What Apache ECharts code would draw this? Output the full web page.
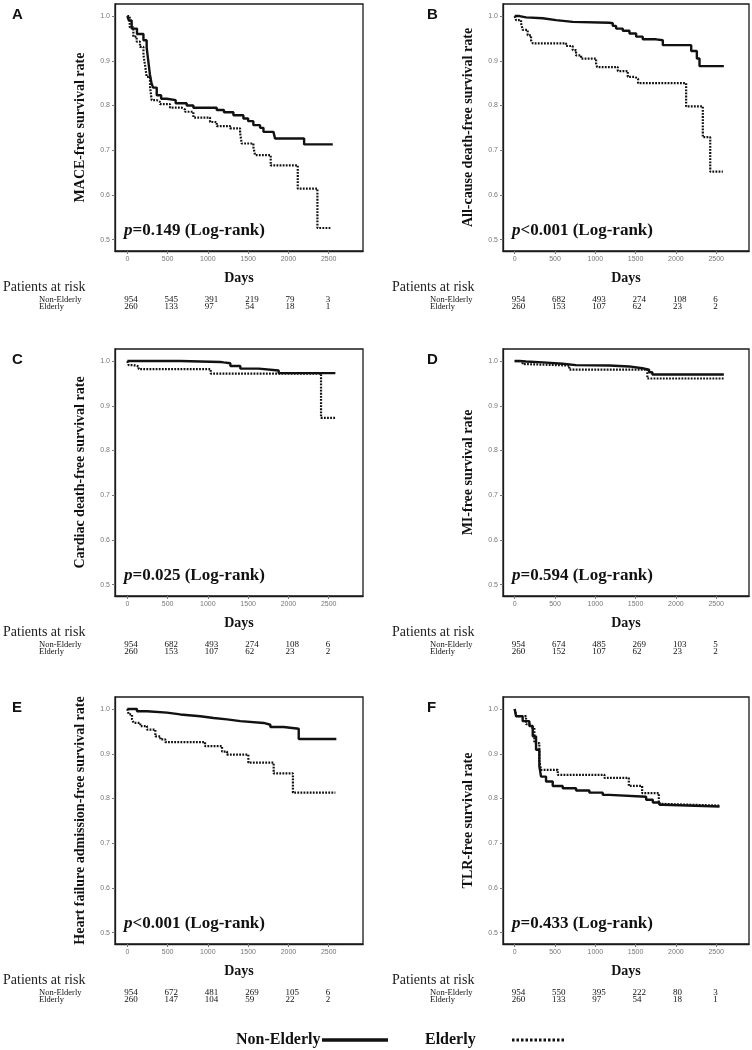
<!DOCTYPE html>
<html>
<head>
<meta charset="utf-8">
<script src="https://cdn.jsdelivr.net/npm/echarts@6/dist/echarts.min.js"></script>
<style>
html,body{margin:0;padding:0;background:#fff;}
#c{width:752px;height:1050px;}
</style>
</head>
<body>
<div id="c"></div>
<script>
// ---------- DATA ----------
const xTicks = [0, 500, 1000, 1500, 2000, 2500];
const yTicks = [0.5, 0.6, 0.7, 0.8, 0.9, 1.0];
const riskTicks = [0, 500, 1000, 1500, 2000, 2500];

// A: MACE
const maceNonElderly = [[0,1],[20,0.99],[54,0.972],[120,0.96],[200,0.946],[240,0.93],[260,0.9],[280,0.87],[300,0.85],[320,0.84],[365,0.823],[420,0.815],[490,0.812],[600,0.805],[737,0.8],[820,0.795],[1110,0.79],[1200,0.785],[1317,0.778],[1441,0.771],[1500,0.765],[1565,0.756],[1648,0.75],[1690,0.741],[1814,0.737],[1834,0.726],[2195,0.713],[2551,0.713]];
const maceElderly = [[0,1],[30,0.975],[75,0.954],[116,0.943],[157,0.931],[200,0.913],[220,0.89],[240,0.864],[282,0.842],[302,0.812],[364,0.808],[406,0.803],[530,0.795],[675,0.791],[716,0.786],[820,0.773],[1027,0.763],[1110,0.754],[1275,0.749],[1400,0.739],[1420,0.715],[1565,0.707],[1586,0.689],[1780,0.666],[2116,0.614],[2360,0.526],[2530,0.526]];
const maceRiskNonElderly = [954, 545, 391, 219, 79, 3];
const maceRiskElderly = [260, 133, 97, 54, 18, 1];

// B: All-cause death
const deathNonElderly = [[0,1],[60,0.997],[141,0.995],[348,0.991],[513,0.987],[720,0.985],[1175,0.984],[1217,0.978],[1258,0.972],[1341,0.967],[1424,0.961],[1507,0.954],[1589,0.948],[1755,0.946],[1838,0.935],[2190,0.922],[2260,0.905],[2293,0.888],[2595,0.888]];
const deathElderly = [[0,1],[17,0.991],[79,0.984],[100,0.969],[161,0.957],[203,0.946],[224,0.939],[637,0.933],[720,0.924],[761,0.912],[824,0.905],[1010,0.894],[1022,0.886],[1279,0.877],[1403,0.864],[1490,0.86],[1531,0.85],[2127,0.798],[2334,0.729],[2426,0.652],[2583,0.652]];
const deathRiskNonElderly = [954, 682, 493, 274, 108, 6];
const deathRiskElderly = [260, 153, 107, 62, 23, 2];

// C: Cardiac death
const cardiacNonElderly = [[0,1],[658,0.998],[1155,0.997],[1196,0.995],[1279,0.989],[1403,0.983],[1631,0.979],[1879,0.973],[2583,0.973]];
const cardiacElderly = [[0,1],[17,0.991],[79,0.988],[141,0.982],[1035,0.972],[2405,0.873],[2583,0.873]];
const cardiacRiskNonElderly = [954, 682, 493, 274, 108, 6];
const cardiacRiskElderly = [260, 153, 107, 62, 23, 2];

// D: MI
const miNonElderly = [[0,1],[60,0.999],[140,0.997],[347,0.994],[594,0.991],[759,0.99],[1172,0.988],[1419,0.984],[1584,0.981],[1667,0.975],[1708,0.97],[2595,0.97]];
const miElderly = [[0,1],[99,0.993],[181,0.99],[677,0.981],[1646,0.961],[2595,0.961]];
const miRiskNonElderly = [954, 674, 485, 269, 103, 5];
const miRiskElderly = [260, 152, 107, 62, 23, 2];

// E: Heart failure admission
const hfNonElderly = [[0,1],[120,0.995],[244,0.992],[492,0.988],[658,0.984],[906,0.98],[1072,0.977],[1238,0.973],[1403,0.969],[1693,0.965],[1776,0.96],[1941,0.956],[2128,0.933],[2595,0.933]];
const hfElderly = [[0,1],[17,0.988],[58,0.977],[79,0.969],[161,0.962],[244,0.954],[348,0.939],[410,0.932],[472,0.926],[965,0.917],[1176,0.905],[1238,0.898],[1503,0.88],[1817,0.856],[2056,0.813],[2583,0.813]];
const hfRiskNonElderly = [954, 672, 481, 269, 105, 6];
const hfRiskElderly = [260, 147, 104, 59, 22, 2];

// F: TLR
const tlrNonElderly = [[0,1],[17,0.984],[99,0.973],[182,0.962],[224,0.939],[265,0.909],[306,0.872],[327,0.849],[389,0.838],[472,0.828],[596,0.823],[762,0.818],[927,0.813],[1093,0.808],[1176,0.804],[1631,0.797],[1714,0.791],[1797,0.786],[1838,0.782],[2542,0.782]];
const tlrElderly = [[0,1],[20,0.984],[141,0.966],[203,0.958],[244,0.924],[306,0.883],[327,0.864],[534,0.853],[1114,0.846],[1416,0.828],[1581,0.812],[1788,0.788],[1817,0.784],[2542,0.784]];
const tlrRiskNonElderly = [954, 550, 395, 222, 80, 3];
const tlrRiskElderly = [260, 133, 97, 54, 18, 1];

const panelLetters = ['A','B','C','D','E','F'];
const yTitles = ['MACE-free survival rate','All-cause death-free survival rate','Cardiac death-free survival rate','MI-free survival rate','Heart failure admission-free survival rate','TLR-free survival rate'];
const pTexts = ['=0.149 (Log-rank)','<0.001 (Log-rank)','=0.025 (Log-rank)','=0.594 (Log-rank)','<0.001 (Log-rank)','=0.433 (Log-rank)'];
const groupNames = ['Non-Elderly','Elderly'];
const seriesNE = [maceNonElderly, deathNonElderly, cardiacNonElderly, miNonElderly, hfNonElderly, tlrNonElderly];
const seriesEl = [maceElderly, deathElderly, cardiacElderly, miElderly, hfElderly, tlrElderly];
const riskNE = [maceRiskNonElderly, deathRiskNonElderly, cardiacRiskNonElderly, miRiskNonElderly, hfRiskNonElderly, tlrRiskNonElderly];
const riskEl = [maceRiskElderly, deathRiskElderly, cardiacRiskElderly, miRiskElderly, hfRiskElderly, tlrRiskElderly];

// ---------- LAYOUT ----------
const colLeft = [115, 503], colWidth = [248, 246];
const rowTop = [4, 349, 697], gridH = 247;
const xMin = [-153, -145], xMax = [2926, 2907];
const yMin = 0.4745, yMax = 1.027;
const SERIF = "'Liberation Serif','DejaVu Serif',serif";
const SANS = "'Liberation Sans',Arial,sans-serif";
const dotted = [1.8, 1.3];

const chart = echarts.init(document.getElementById('c'), null, {renderer:'canvas'});
const grids = [], xAxes = [], yAxes = [], series = [];
for (let i = 0; i < 6; i++) {
  const col = i % 2, row = Math.floor(i / 2);
  grids.push({left: colLeft[col], top: rowTop[row], width: colWidth[col], height: gridH,
    show: true, borderColor: '#1a1a1a', borderWidth: 1.3, backgroundColor: 'transparent'});
  xAxes.push({type: 'value', gridIndex: i, min: xMin[col], max: xMax[col],
    name: 'Days', nameLocation: 'middle', nameGap: 20,
    nameTextStyle: {fontFamily: SERIF, fontWeight: 'bold', fontSize: 14, color: '#111', verticalAlign: 'top'},
    axisLine: {show: true, onZero: false, lineStyle: {color: '#1a1a1a', width: 1.3}},
    axisTick: {show: true, length: 3, lineStyle: {color: '#777'}, customValues: xTicks},
    axisLabel: {fontSize: 7, color: '#777', fontFamily: SANS, margin: 5, customValues: xTicks,
      formatter: v => String(Math.round(v))},
    splitLine: {show: false}});
  yAxes.push({type: 'value', gridIndex: i, min: yMin, max: yMax,
    name: yTitles[i], nameLocation: 'middle', nameGap: 28,
    nameTextStyle: {fontFamily: SERIF, fontWeight: 'bold', fontSize: 14, color: '#111'},
    axisLine: {show: true, onZero: false, lineStyle: {color: '#1a1a1a', width: 1.3}},
    axisTick: {show: true, length: 3, lineStyle: {color: '#777'}, customValues: yTicks},
    axisLabel: {fontSize: 7, color: '#777', fontFamily: SANS, margin: 5, customValues: yTicks,
      formatter: v => v.toFixed(1)},
    splitLine: {show: false}});
  series.push({type: 'line', name: groupNames[1], xAxisIndex: i, yAxisIndex: i, data: seriesEl[i],
    step: 'end', symbol: 'none', lineStyle: {color: '#111', width: 2.2, type: dotted}, z: 2});
  series.push({type: 'line', name: groupNames[0], xAxisIndex: i, yAxisIndex: i, data: seriesNE[i],
    step: 'end', symbol: 'none', lineStyle: {color: '#111', width: 2.4, type: 'solid'}, z: 3});
}

chart.setOption({animation: false, backgroundColor: '#fff', grid: grids, xAxis: xAxes, yAxis: yAxes, series: series});

// ---------- TEXT / TABLES ----------
const graphic = [];
function txt(x, y, text, font, align, extra) {
  graphic.push(Object.assign({type: 'text', x: x, y: y, silent: true,
    style: Object.assign({text: text, font: font, fill: '#111', align: align || 'left', verticalAlign: 'middle'}, extra || {})}));
}
for (let i = 0; i < 6; i++) {
  const col = i % 2, row = Math.floor(i / 2);
  const top = rowTop[row], bottom = top + gridH;
  txt(col ? 427 : 12, top + 11, panelLetters[i], 'bold 15px ' + SANS, 'left');
  graphic.push({type: 'text', x: colLeft[col] + 9, y: top + 227, silent: true,
    style: {text: '{i|p}{b|' + pTexts[i] + '}', verticalAlign: 'middle', align: 'left',
      rich: {i: {fontFamily: SERIF, fontStyle: 'italic', fontWeight: 'bold', fontSize: 17, fill: '#111'},
             b: {fontFamily: SERIF, fontWeight: 'bold', fontSize: 17, fill: '#111'}}}});
  txt(col ? 392 : 3, bottom + 36, 'Patients at risk', '14px ' + SERIF, 'left', {fill: '#222'});
  txt(col ? 430 : 39, bottom + 49, groupNames[0], '8.5px ' + SERIF, 'left');
  txt(col ? 430 : 39, bottom + 56, groupNames[1], '8.5px ' + SERIF, 'left');
  for (let k = 0; k < riskTicks.length; k++) {
    const px = chart.convertToPixel({xAxisIndex: i}, riskTicks[k]) - 3;
    txt(px, bottom + 49, String(riskNE[i][k]), '9px ' + SERIF, 'left');
    txt(px, bottom + 56, String(riskEl[i][k]), '9px ' + SERIF, 'left');
  }
}
// bottom legend
txt(236, 1040, groupNames[0], 'bold 16px ' + SERIF, 'left');
graphic.push({type: 'line', silent: true, shape: {x1: 322, y1: 1040, x2: 388, y2: 1040}, style: {stroke: '#111', lineWidth: 3.5}});
txt(425, 1040, groupNames[1], 'bold 16px ' + SERIF, 'left');
graphic.push({type: 'line', silent: true, shape: {x1: 512, y1: 1040, x2: 566, y2: 1040}, style: {stroke: '#111', lineWidth: 3, lineDash: [2.5, 2]}});

chart.setOption({graphic: graphic});
</script>
</body>
</html>
